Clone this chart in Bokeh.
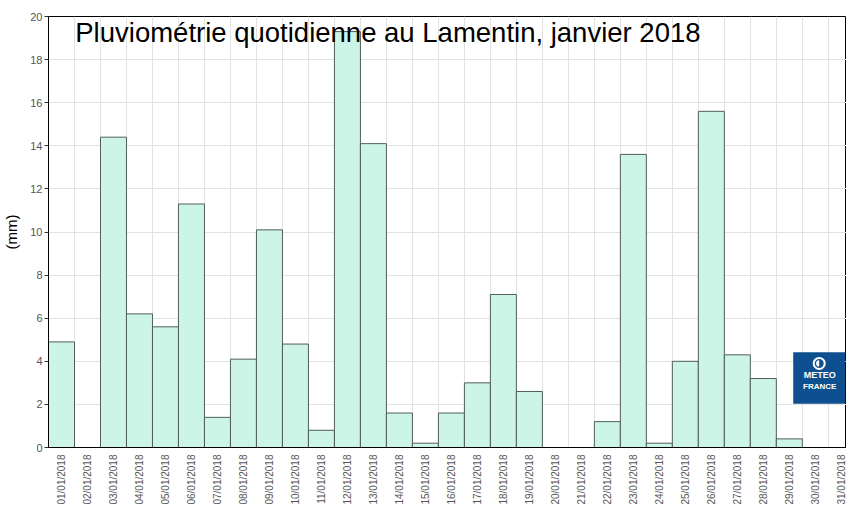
from bokeh.plotting import figure
from bokeh.models import Range1d, FixedTicker, Label
from bokeh.embed import file_html
from bokeh.resources import INLINE

days = [f"{d:02d}/01/2018" for d in range(1, 32)]
rain_mm = [4.9, 0.0, 14.4, 6.2, 5.6, 11.3, 1.4, 4.1, 10.1, 4.8,
           0.8, 19.3, 14.1, 1.6, 0.2, 1.6, 3.0, 7.1, 2.6, 0.0,
           0.0, 1.2, 13.6, 0.2, 4.0, 15.6, 4.3, 3.2, 0.4, 0.0, 0.0]
y_ticks = list(range(0, 21, 2))
title_text = "Pluviométrie quotidienne au Lamentin, janvier 2018"

xs = list(range(1, len(days) + 1))

p = figure(width=846, height=507, output_backend="svg", toolbar_location=None,
           x_range=Range1d(0.5, 31.2), y_range=Range1d(0, 20),
           min_border_left=48, min_border_right=0, min_border_top=16,
           min_border_bottom=0)

p.vbar(x=xs, top=rain_mm, width=1.0, bottom=0,
       fill_color="#cdf5e7", line_color="#4f5f57", line_width=1)

p.outline_line_color = "black"
p.outline_line_width = 1
p.background_fill_color = "white"
p.border_fill_color = "white"

# grids
p.xgrid.ticker = FixedTicker(ticks=[i + 0.5 for i in range(0, 32)])
p.xgrid.grid_line_color = "#e2e2e2"
p.ygrid.ticker = FixedTicker(ticks=y_ticks)
p.ygrid.grid_line_color = "#e2e2e2"

# x axis
p.xaxis.ticker = FixedTicker(ticks=xs)
p.xaxis.major_label_overrides = {x: d for x, d in zip(xs, days)}
p.xaxis.major_label_orientation = 3.14159265 / 2
p.xaxis.major_label_text_font = "Liberation Sans"
p.xaxis.major_label_text_font_size = "10px"
p.xaxis.major_label_text_color = "#555555"
p.xaxis.major_tick_line_color = None
p.xaxis.minor_tick_line_color = None
p.xaxis.major_label_standoff = 1
p.xaxis.axis_line_color = "black"

# y axis
p.yaxis.ticker = FixedTicker(ticks=y_ticks)
p.yaxis.major_label_text_font = "Liberation Sans"
p.yaxis.major_label_text_font_size = "11px"
p.yaxis.major_label_text_color = "#555555"
p.yaxis.major_tick_out = 4
p.yaxis.major_tick_in = 0
p.yaxis.major_tick_line_color = "#333333"
p.yaxis.minor_tick_line_color = None
p.yaxis.major_label_standoff = 2
p.yaxis.axis_line_color = "black"
p.yaxis.axis_label = "(mm)"
p.yaxis.axis_label_text_font = "Liberation Sans"
p.yaxis.axis_label_text_font_size = "15px"
p.yaxis.axis_label_text_font_style = "normal"
p.yaxis.axis_label_text_color = "black"
p.yaxis.axis_label_standoff = 7

# title inside plot area
p.add_layout(Label(x=1.53, y=20.0, text=title_text, text_font="Liberation Sans",
                   text_font_size="27.5px", text_color="black", text_baseline="top",
                   text_align="left"))

# Meteo France logo (decoration)
p.quad(left=[29.15], right=[31.15], bottom=[2.03], top=[4.42],
       fill_color="#0d4f8f", line_color=None)
p.scatter(x=[30.15], y=[3.9], size=11, marker="circle", fill_color="#0d4f8f",
          line_color="white", line_width=2)
p.wedge(x=[30.15], y=[3.9], radius=0.12, start_angle=1.57, end_angle=4.71,
        fill_color="white", line_color=None)
p.add_layout(Label(x=30.17, y=3.35, text="METEO", text_font="Liberation Sans",
                   text_font_size="9px", text_font_style="bold", text_color="white",
                   text_align="center", text_baseline="middle"))
p.add_layout(Label(x=30.17, y=2.85, text="FRANCE", text_font="Liberation Sans",
                   text_font_size="8px", text_font_style="bold", text_color="white",
                   text_align="center", text_baseline="middle"))

open("out.html", "w").write(file_html(p, INLINE))
